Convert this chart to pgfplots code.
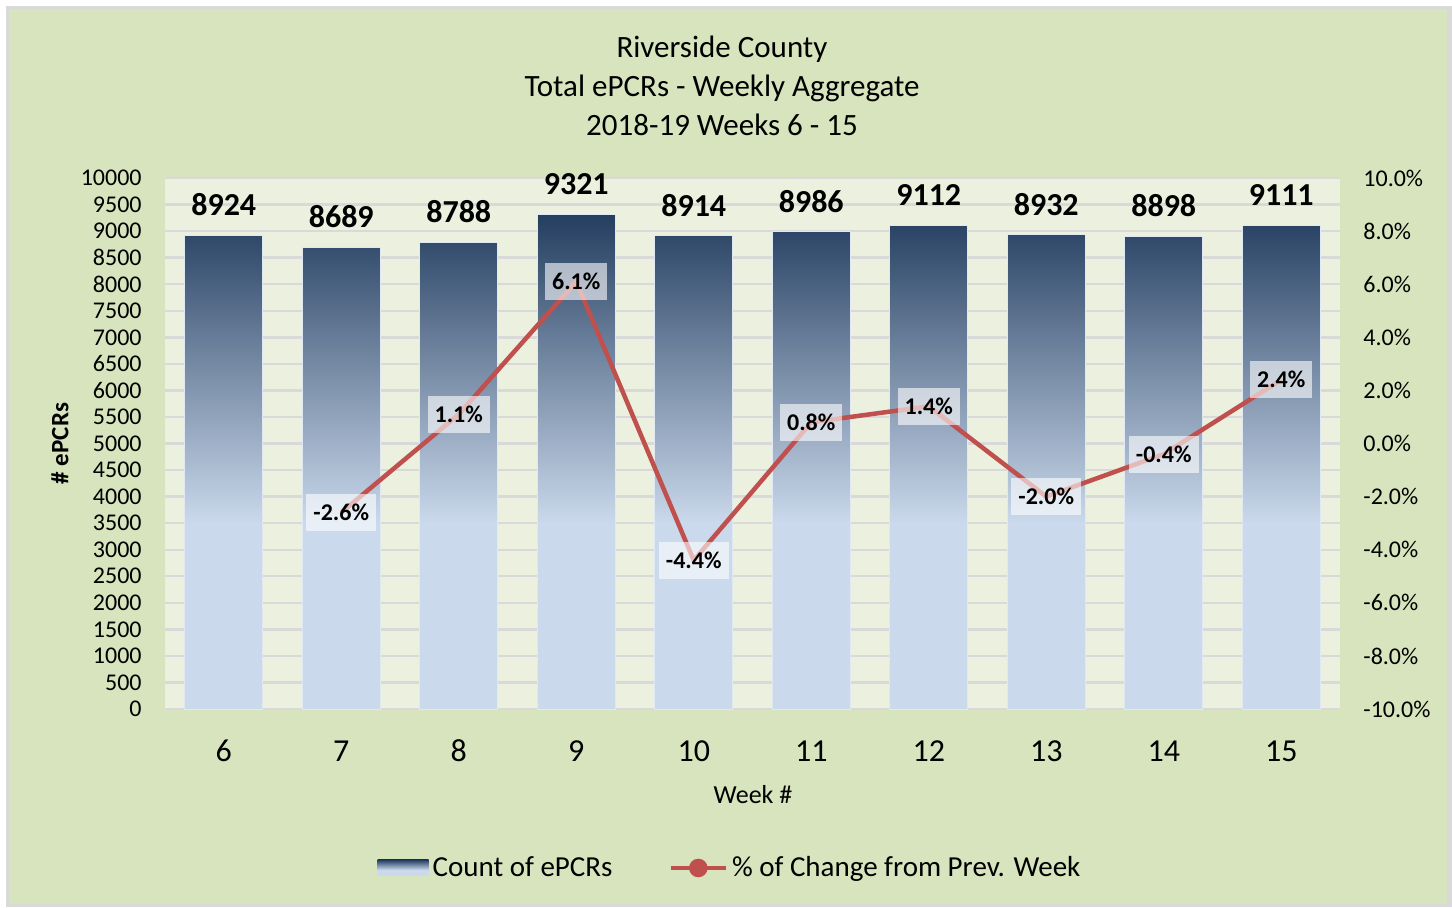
\documentclass[border=0pt]{standalone}
\usepackage{pgfplots}
\pgfplotsset{compat=1.18}
\usepackage{fontspec}
\setmainfont{Carlito}
\definecolor{bggreen}{RGB}{215,228,189}
\definecolor{plotbg}{RGB}{235,241,222}
\definecolor{gridgray}{RGB}{217,217,217}
\definecolor{linered}{RGB}{192,80,77}
\definecolor{barlight}{RGB}{202,217,235}
\definecolor{bardark}{RGB}{36,62,96}
\pgfdeclareverticalshading{barshade}{100bp}{color(0bp)=(barlight); color(25bp)=(barlight); color(43.8bp)=(barlight); color(75bp)=(bardark); color(100bp)=(bardark)}
\begin{document}
\begin{tikzpicture}
\useasboundingbox (0,0) rectangle (726pt,453.5pt);
\fill[white] (0,0) rectangle (726pt,453.5pt);
\fill[gridgray] (3pt,0pt) rectangle (726pt,450.5pt);
\fill[bggreen] (4.5pt,1.5pt) rectangle (723.5pt,449pt);
\node[font=\fontsize{15.5}{19.5}\selectfont, align=center] at (361pt,410.5pt) {Riverside County\\Total ePCRs - Weekly Aggregate\\2018-19 Weeks 6 - 15};

\begin{axis}[
  at={(82.5pt,99pt)}, anchor=south west, scale only axis,
  width=587.5pt, height=265.5pt,
  xmin=5.5, xmax=15.5, ymin=0, ymax=10000,
  axis background/.style={fill=plotbg},
  axis line style={draw=none},
  ytick={0,500,...,10000},
  scaled y ticks=false,
  xtick={6,7,8,9,10,11,12,13,14,15},
  xticklabels={6,7,8,9,10,11,12,13,14,15},
  ymajorgrids, grid style={gridgray, line width=1.2pt},
  major tick length=0pt,
  /pgf/number format/fixed,
  /pgf/number format/precision=0,
  /pgf/number format/1000 sep={},
  /pgf/number format/assume math mode=true,
  yticklabel style={font=\fontsize{12}{14}\selectfont, anchor=east, inner sep=0pt, xshift=-11.5pt},
  xticklabel style={font=\fontsize{16}{19}\selectfont, anchor=center, yshift=-21pt},
  ylabel={\# ePCRs},
  ylabel style={at={(axis description cs:-0.0894,0.5)}, anchor=center, font=\bfseries\fontsize{12.5}{15}\selectfont},
  xlabel={Week \#},
  xlabel style={at={(axis description cs:0.5004,-0.162)}, anchor=center, font=\fontsize{13}{15}\selectfont},
]
\addplot[ybar, bar width=39pt, draw=barlight!60!white, line width=0.4pt, shading=barshade,
  nodes near coords,
  nodes near coords style={font=\bfseries\fontsize{16}{19}\selectfont, inner sep=0pt, yshift=9.5pt, text=black}]
  coordinates {(6,8924) (7,8689) (8,8788) (9,9321) (10,8914) (11,8986) (12,9112) (13,8932) (14,8898) (15,9111)};
\end{axis}

\begin{axis}[
  at={(82.5pt,99pt)}, anchor=south west, scale only axis,
  width=587.5pt, height=265.5pt,
  xmin=5.5, xmax=15.5, ymin=-10, ymax=10,
  hide x axis,
  axis y line*=right,
  axis line style={draw=none},
  major tick length=0pt,
  ytick={-10,-8,-6,-4,-2,0,2,4,6,8,10},
  yticklabels={-10.0\%,-8.0\%,-6.0\%,-4.0\%,-2.0\%,0.0\%,2.0\%,4.0\%,6.0\%,8.0\%,10.0\%},
  yticklabel style={font=\fontsize{12}{14}\selectfont, anchor=west, inner sep=0pt, xshift=11.5pt},
  legend style={at={(axis description cs:0.4817,-0.2994)}, anchor=center, draw=none, fill=none,
    legend columns=2, font=\fontsize{14.5}{17}\selectfont,
    /tikz/every even column/.append style={column sep=26pt}},
  legend cell align=left,
]
\addlegendimage{legend image code/.code={\shade[shading=barshade, draw=none] (0pt,-4pt) rectangle (25.5pt,4pt);}}
\addlegendentry{Count of ePCRs}
\addplot[linered, line width=2.25pt, mark=none,
  point meta=explicit symbolic,
  nodes near coords,
  nodes near coords style={anchor=center, fill=white, fill opacity=0.6, text opacity=1, text=black,
    font=\bfseries\fontsize{12}{14}\selectfont, inner xsep=3.5pt, inner ysep=4.7pt, text height=8.5pt, text depth=0.5pt},
  legend image code/.code={\draw[linered, line width=2.25pt] (0pt,0pt) -- (27.5pt,0pt); \fill[linered] (13.75pt,0pt) circle (3.5pt);}]
  coordinates {(7,-2.6) [-2.6\%] (8,1.1) [1.1\%] (9,6.1) [6.1\%] (10,-4.4) [-4.4\%] (11,0.8) [0.8\%] (12,1.4) [1.4\%] (13,-2.0) [-2.0\%] (14,-0.4) [-0.4\%] (15,2.4) [2.4\%]};
\addlegendentry{\% of Change from Prev. Week}
\end{axis}
\end{tikzpicture}
\end{document}
